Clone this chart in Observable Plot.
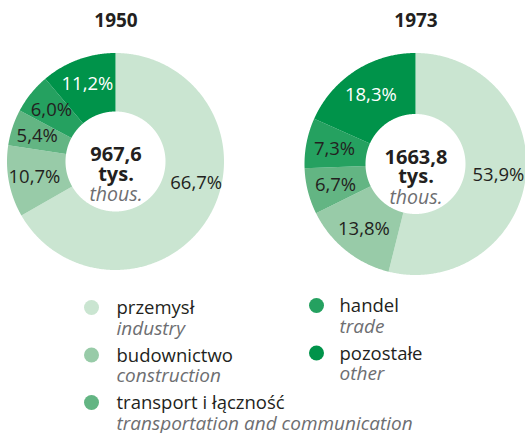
<!DOCTYPE html>
<html>
<head>
<meta charset="utf-8">
<script src="https://cdn.jsdelivr.net/npm/d3@7"></script>
<script src="https://cdn.jsdelivr.net/npm/@observablehq/plot@0.6"></script>
<style>
  html, body { margin: 0; padding: 0; background: white; }
</style>
</head>
<body>
<div id="chart"></div>
<script>
// ---- data ----
const categories = ["przemysł", "budownictwo", "transport i łączność", "handel", "pozostałe"];
const categoriesEn = ["industry", "construction", "transportation and communication", "trade", "other"];
const colors = ["#cae5d1", "#98cba8", "#63b583", "#25a160", "#00934a"];
const years = ["1950", "1973"];
const totals = [967.6, 1663.8];
const shares1950 = [66.7, 10.7, 5.4, 6.0, 11.2];
const shares1973 = [53.9, 13.8, 6.7, 7.3, 18.3];
const unitPl = "tys.";
const unitEn = "thous.";

// ---- layout ----
const W = 525, H = 433;
const layout = [{cx: 115.5, cy: 161.5, R: 108.5}, {cx: 415.5, cy: 164, R: 111}];
const rInner = 50, rLabel = 83;
const dark = "#231f20", gray = "#6d6e71";
const fmt = v => v.toFixed(1).replace(".", ",");

const arcs = [], pctLabels = [], centerText = [], titles = [];
years.forEach((year, yi) => {
  const shares = yi === 0 ? shares1950 : shares1973;
  const {cx, cy, R} = layout[yi];
  let cum = 0;
  shares.forEach((v, ci) => {
    const a0 = cum / 100 * 2 * Math.PI, a1 = (cum + v) / 100 * 2 * Math.PI;
    const n = Math.max(2, Math.ceil((a1 - a0) / (Math.PI / 360)) + 1);
    for (let k = 0; k < n; k++) {
      const a = a0 + (a1 - a0) * k / (n - 1);
      arcs.push({id: year + "-" + ci, cat: categories[ci],
        xo: cx + R * Math.sin(a), yo: cy - R * Math.cos(a),
        xi: cx + rInner * Math.sin(a), yi: cy - rInner * Math.cos(a)});
    }
    // the biggest slice's label sits a little higher, closer to horizontal
    let am = (a0 + a1) / 2;
    if (v > 60) am = Math.PI / 2 + (am - Math.PI / 2) * 0.5;
    pctLabels.push({x: cx + rLabel * Math.sin(am), y: cy - rLabel * Math.cos(am),
      text: fmt(v) + "%", fill: ci === 4 ? "white" : dark});
    cum += v;
  });
  titles.push({x: cx, y: 20, text: year});
  centerText.push({x: cx, y: cy - 7, text: fmt(totals[yi]), kind: "num"});
  centerText.push({x: cx, y: cy + 12.5, text: unitPl, kind: "num"});
  centerText.push({x: cx, y: cy + 33, text: unitEn, kind: "en"});
});

const legend = categories.map((c, i) => {
  const col = i < 3 ? 0 : 1, row = i < 3 ? i : i - 3;
  const x = col ? 316 : 91, y = (col ? 305 : 307) + row * 47.5;
  return {cat: c, en: categoriesEn[i], x, y, tx: col ? 339 : 116};
});

const plot = Plot.plot({
  width: W, height: H,
  margin: 0,
  x: {domain: [0, W], range: [0, W], axis: null},
  y: {domain: [0, H], range: [0, H], axis: null},
  color: {domain: categories, range: colors},
  style: {fontFamily: "'Open Sans', sans-serif", background: "white"},
  marks: [
    Plot.area(arcs, {x1: "xo", y1: "yo", x2: "xi", y2: "yi", z: "id", fill: "cat", curve: "linear"}),
    Plot.text(pctLabels, {x: "x", y: "y", text: "text", fill: d => d.fill, fontSize: 18.5}),
    Plot.text(titles, {x: "x", y: "y", text: "text", fill: dark, fontSize: 19, fontWeight: "bold"}),
    Plot.text(centerText.filter(d => d.kind === "num"), {x: "x", y: "y", text: "text", fill: dark, fontSize: 20, fontWeight: "bold"}),
    Plot.text(centerText.filter(d => d.kind === "en"), {x: "x", y: "y", text: "text", fill: gray, fontSize: 19.5, fontStyle: "italic"}),
    Plot.dot(legend, {x: "x", y: "y", r: 7.5, fill: "cat", stroke: null}),
    Plot.text(legend, {x: "tx", y: d => d.y + 1, text: "cat", fill: dark, fontSize: 18.5, textAnchor: "start"}),
    Plot.text(legend, {x: "tx", y: d => d.y + 21, text: "en", fill: gray, fontSize: 19, fontStyle: "italic", textAnchor: "start"})
  ]
});
document.getElementById("chart").appendChild(plot);
</script>
</body>
</html>
